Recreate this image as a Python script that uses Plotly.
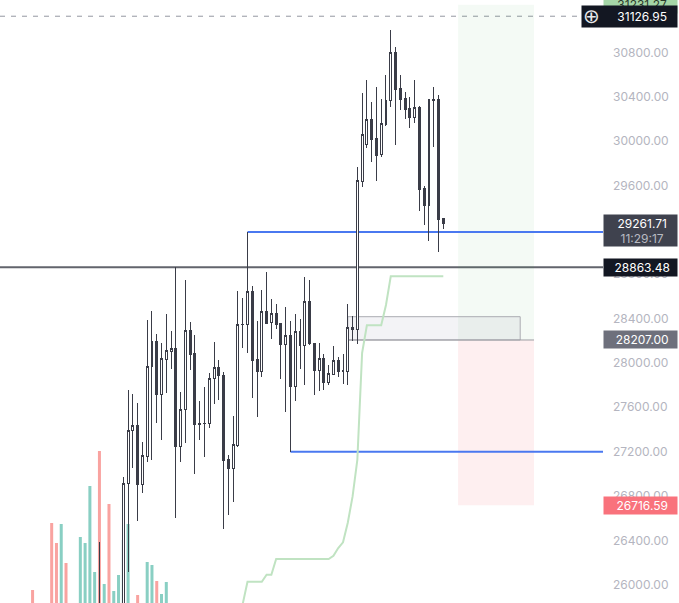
import plotly.graph_objects as go

# Candles, oldest first
bar_index = [-5] + list(range(68))
opens = [25780, 25636, 26914, 27389, 27440, 26902, 27154, 27966, 28189, 27711, 28029, 28101, 28126, 27245, 27582,
         28297, 28081, 27458, 27458, 27456, 27858, 27961, 27891, 27125, 27046, 27254, 28345, 28345, 28640, 28027,
         27921, 28468, 28363, 28450, 28360, 28162, 28252, 27792, 28288, 28153, 28550, 28171, 27936, 28036, 27828,
         27900, 28018, 27936, 27921, 28324, 28303, 29635, 29966, 30200, 30020, 29882, 30155, 30371, 30804, 30471,
         30389, 30299, 30218, 30308, 29569, 29424, 30378, 30380, 29307]
highs = [26385, 26971, 27756, 27720, 27639, 27287, 28387, 28468, 28261, 28180, 28441, 28288, 28865, 27735, 28748,
         28369, 28252, 27657, 27783, 27909, 28186, 28027, 27918, 27170, 27522, 28649, 28586, 29181, 28694, 28378,
         28658, 28820, 28577, 28532, 28360, 28504, 28378, 28441, 28396, 28775, 28748, 28171, 28180, 28081, 27981,
         28153, 28054, 28081, 28532, 28423, 29767, 30435, 30552, 30353, 30489, 30380, 30597, 31003, 30849, 30597,
         30444, 30398, 30552, 30317, 29596, 30380, 30489, 30416, 29307]
lows = [25700, 25501, 26114, 27055, 26577, 26830, 27109, 27125, 27461, 27308, 27732, 27945, 26604, 27109, 27281,
        27936, 26998, 27305, 27154, 27416, 27632, 27666, 26505, 26631, 26749, 27245, 28137, 28092, 27686, 27515,
        27876, 28357, 28216, 28306, 27855, 27560, 27199, 27657, 27945, 27801, 28162, 27711, 27747, 27756, 27801,
        27891, 27873, 27810, 27801, 28198, 28171, 29590, 29941, 29812, 29644, 29860, 30137, 30308, 29966, 30281,
        30200, 30119, 30164, 29370, 29244, 29100, 29947, 29003, 29208]
closes = [25760, 26917, 27395, 27440, 26902, 27161, 27972, 28189, 27714, 28036, 28108, 28126, 27245, 27582, 28297,
          28072, 27443, 27443, 27452, 27864, 27961, 27885, 27118, 27044, 27260, 28351, 28351, 28640, 28020, 27921,
          28468, 28357, 28450, 28351, 28162, 28252, 27792, 28288, 28153, 28550, 28171, 27936, 28036, 27828, 27909,
          28018, 27927, 27921, 28324, 28300, 29641, 30056, 30200, 30011, 29875, 30164, 30371, 30804, 30462, 30380,
          30290, 30218, 30308, 29560, 29424, 30380, 30371, 29298, 29261.71]

# Volume histogram
volume_index = [-19, -15, -14, -13, -12, -9, -8, -7, -6, -5, -4, -3, -2, -1, 0, 1, 3, 5, 6, 7, 8, 9]
volume = [13, 80, 60, 79, 40, 66, 60, 117, 31, 152, 19, 99, 12, 28, 63, 79, 8, 41, 38, 22, 9, 21]
volume_up = [0, 0, 0, 1, 0, 1, 1, 1, 1, 0, 1, 0, 1, 1, 1, 1, 0, 1, 1, 0, 1, 1]

# Trailing indicator
trail_index = [25, 26, 29, 30, 31, 32, 43, 44, 45, 46, 47, 48, 49, 50, 51, 54, 55, 56, 67]
trail = [25826, 26027, 26027, 26090, 26090, 26232, 26232, 26261, 26331, 26382, 26559, 26794, 27125, 28090,
         28340, 28340, 28523, 28781, 28781]

# Price levels
tick_prices = [26000, 26400, 26800, 27200, 27600, 28000, 28400, 28800, 29200, 29600, 30000, 30400, 30800, 31200]
last_price = 29261.71
countdown = "11:29:17"
crosshair_price = 31126.95
target_price = 31231.27
stop_price = 26716.59
entry_price = 28207.00
resistance = 28863.48
upper_level = 29181
lower_level = 27199
zone_top = 28417

WIDTH, HEIGHT = 679, 603
PLOT_RIGHT = 603
CANDLE = "#3a3c47"
LEVEL_BLUE = "#4a78f0"
NBSP = "\u00a0"


def px(x):
    """Pixel column expressed as a fraction of the plot width."""
    return x / PLOT_RIGHT


fig = go.Figure()
fig.add_bar(
    x=volume_index, y=volume, width=0.63, yaxis="y",
    marker=dict(color=["#89cfc3" if u else "#f9a3a0" for u in volume_up], line_width=0),
)
fig.add_candlestick(
    x=bar_index, open=opens, high=highs, low=lows, close=closes, yaxis="y2",
    whiskerwidth=0,
    increasing=dict(line=dict(color=CANDLE, width=1), fillcolor="#ffffff"),
    decreasing=dict(line=dict(color=CANDLE, width=1), fillcolor=CANDLE),
)
fig.add_scatter(
    x=trail_index, y=trail, yaxis="y2", mode="lines",
    line=dict(color="#c0e3c2", width=2),
)

shapes = [
    # reward and risk zones
    dict(type="rect", xref="x", yref="y2", x0=70.1, x1=86, y0=entry_price, y1=target_price,
         fillcolor="rgba(76,175,80,0.06)", line_width=0, layer="below"),
    dict(type="rect", xref="x", yref="y2", x0=70.1, x1=86, y0=stop_price, y1=entry_price,
         fillcolor="rgba(242,54,69,0.08)", line_width=0, layer="below"),
    # demand box and entry line
    dict(type="rect", xref="x", yref="y2", x0=47, x1=83.1, y0=entry_price, y1=zone_top,
         fillcolor="rgba(120,123,150,0.09)", line=dict(color="#abacb2", width=1), layer="below"),
    dict(type="line", xref="x", yref="y2", x0=47, x1=86, y0=entry_price, y1=entry_price,
         line=dict(color="#9c9da3", width=1), layer="below"),
    # horizontal levels
    dict(type="line", xref="paper", yref="y2", x0=0, x1=1, y0=resistance, y1=resistance,
         line=dict(color="#62646c", width=2), layer="below"),
    dict(type="line", xref="x", yref="y2", x0=26, x1=100.44, y0=upper_level, y1=upper_level,
         line=dict(color=LEVEL_BLUE, width=2), layer="below"),
    dict(type="line", xref="x", yref="y2", x0=35, x1=100.44, y0=lower_level, y1=lower_level,
         line=dict(color=LEVEL_BLUE, width=2), layer="below"),
    # crosshair
    dict(type="line", xref="paper", yref="y2", x0=0, x1=px(581), y0=crosshair_price, y1=crosshair_price,
         line=dict(color="#9598a1", width=1, dash="5px,6px"), layer="below"),
]


def price_tag(text, price, bg, height=17, shift=0, color="#ffffff", valign="middle"):
    return dict(
        xref="paper", yref="y2", x=px(602.7), y=price, xanchor="left", yanchor="middle",
        yshift=shift, text=NBSP + text, showarrow=False, bgcolor=bg, width=73, height=height,
        borderpad=0, align="center", valign=valign,
        font=dict(family="Inter", size=12, color=color),
    )


annotations = [
    price_tag(f"{target_price:.2f}", target_price, "#a5d6a7", height=17, color="#2b3a2c"),
    dict(xref="paper", yref="y2", x=px(581), y=crosshair_price, xanchor="left", yanchor="middle",
         text=" ", showarrow=False, bgcolor="#131722", width=95, height=21, borderpad=0),
    dict(xref="paper", yref="y2", x=px(591.5), y=crosshair_price, xanchor="center", yanchor="middle",
         text="⊕", showarrow=False, font=dict(family="DejaVu Sans", size=20, color="#e8e8ea")),
    price_tag(f"{crosshair_price:.2f}", crosshair_price, "rgba(0,0,0,0)"),
    price_tag(countdown, last_price, "#3f424e", height=31, shift=-7, color="#b8bac2", valign="bottom"),
    price_tag(f"{last_price:.2f}", last_price, "rgba(0,0,0,0)"),
    price_tag(f"{resistance:.2f}", resistance, "#131722"),
    price_tag(f"{entry_price:.2f}", entry_price, "#6e707c"),
    price_tag(f"{stop_price:.2f}", stop_price, "#f9727c"),
]

fig.update_layout(
    width=WIDTH, height=HEIGHT, autosize=False,
    margin=dict(l=0, r=WIDTH - PLOT_RIGHT, t=0, b=0, pad=0),
    paper_bgcolor="#ffffff", plot_bgcolor="#ffffff",
    showlegend=False, boxgap=0.42,
    xaxis=dict(range=[-25.82, 100.44], visible=False, rangeslider=dict(visible=False), fixedrange=True),
    yaxis=dict(range=[0, 603], visible=False, fixedrange=True),
    yaxis2=dict(
        overlaying="y", side="right", range=[25834.9, 31273.3],
        tickmode="array", tickvals=tick_prices, ticktext=[f"{p:.2f}" for p in tick_prices],
        showgrid=False, zeroline=False, showline=False, ticks="",
        ticklabelstandoff=9,
        tickfont=dict(family="Inter", size=12, color="#b4b5c0"),
        fixedrange=True,
    ),
    shapes=shapes, annotations=annotations,
)

# Keep candle outlines on whole pixels so the hollow bodies stay open.
crisp_candles = (
    "document.querySelectorAll('.boxlayer path').forEach("
    "p => { p.style.shapeRendering = 'crispEdges'; });"
)
fig.write_html("out.html", config=dict(displayModeBar=False), post_script=crisp_candles)
